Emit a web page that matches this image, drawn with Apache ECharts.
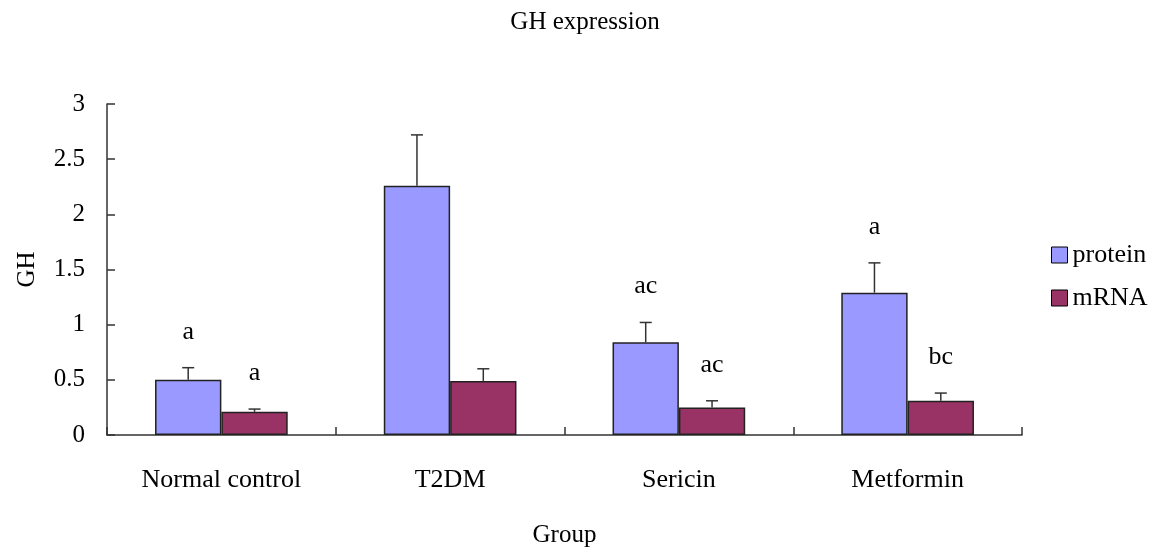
<!DOCTYPE html>
<html>
<head>
<meta charset="utf-8">
<script src="https://cdn.jsdelivr.net/npm/echarts@6/dist/echarts.min.js"></script>
<style>
  html, body { margin: 0; padding: 0; background: #fff; }
  #main { width: 1153px; height: 550px; }
</style>
</head>
<body>
<div id="main"></div>
<script>
  var groups = ['Normal control', 'T2DM', 'Sericin', 'Metformin'];
  var protein = [0.50, 2.26, 0.84, 1.29];
  var proteinSd = [0.11, 0.46, 0.18, 0.27];
  var proteinSig = ['a', '', 'ac', 'a'];
  var mrna = [0.21, 0.49, 0.25, 0.31];
  var mrnaSd = [0.025, 0.11, 0.06, 0.07];
  var mrnaSig = ['a', '', 'ac', 'bc'];

  var font = 'Liberation Serif, Times New Roman, serif';
  var gapRatio = 0.42;

  // error bar (upper only) + significance letters, drawn next to each bar
  function errorSeries(name, means, sds, sigs, side) {
    var data = means.map(function (m, i) { return [i, m, m + sds[i], sigs[i]]; });
    return {
      name: name + ' err',
      type: 'custom',
      z: 5,
      silent: true,
      data: data,
      renderItem: function (params, api) {
        var i = api.value(0);
        var band = api.size([1, 0])[0];
        var bw = band * (1 - gapRatio) / 2;
        var base = api.coord([i, api.value(1)]);
        var top = api.coord([i, api.value(2)]);
        var x = base[0] + side * bw / 2;
        var cap = 6;
        var kids = [
          { type: 'line', shape: { x1: x, y1: base[1], x2: x, y2: top[1] }, style: { stroke: '#333', lineWidth: 1.5 } },
          { type: 'line', shape: { x1: x - cap, y1: top[1], x2: x + cap, y2: top[1] }, style: { stroke: '#333', lineWidth: 1.5 } }
        ];
        var sig = data[params.dataIndex][3];
        if (sig) {
          kids.push({
            type: 'text',
            style: { text: sig, x: x, y: top[1] - 36, align: 'center', verticalAlign: 'middle',
              font: '26px ' + font, fill: '#000' }
          });
        }
        return { type: 'group', children: kids };
      }
    };
  }

  var chart = echarts.init(document.getElementById('main'));
  chart.setOption({
    backgroundColor: '#fff',
    animation: false,
    title: {
      text: 'GH expression',
      left: 580,
      textAlign: 'center',
      top: 5,
      textStyle: { fontFamily: font, fontSize: 25, fontWeight: 'normal', color: '#000' }
    },
    legend: {
      orient: 'vertical',
      left: 1046,
      top: 237,
      itemWidth: 16,
      itemHeight: 16,
      itemGap: 17,
      icon: 'rect',
      data: ['protein', 'mRNA'],
      textStyle: { fontFamily: font, fontSize: 26, color: '#000' },
      itemStyle: { borderColor: '#000', borderWidth: 1 }
    },
    grid: { left: 107, right: 131, top: 104, bottom: 115, outerBoundsMode: 'none' },
    xAxis: {
      type: 'category',
      data: groups,
      name: 'Group',
      nameLocation: 'middle',
      nameGap: 88,
      nameTextStyle: { fontFamily: font, fontSize: 25, color: '#000' },
      axisLine: { lineStyle: { color: '#333', width: 1.5 } },
      axisTick: { show: true, inside: true, length: 8, lineStyle: { color: '#333', width: 1.5 } },
      axisLabel: { fontFamily: font, fontSize: 26, color: '#000', margin: 32 }
    },
    yAxis: {
      type: 'value',
      min: 0,
      max: 3,
      interval: 0.5,
      name: 'GH',
      nameLocation: 'middle',
      nameGap: 67,
      nameTextStyle: { fontFamily: font, fontSize: 25, color: '#000' },
      splitLine: { show: false },
      axisLine: { show: true, lineStyle: { color: '#333', width: 1.5 } },
      axisTick: { show: true, inside: true, length: 8, lineStyle: { color: '#333', width: 1.5 } },
      axisLabel: { fontFamily: font, fontSize: 25, color: '#000', margin: 22 }
    },
    series: [
      {
        name: 'protein',
        type: 'bar',
        data: protein,
        barGap: '0%',
        barCategoryGap: (gapRatio * 100) + '%',
        itemStyle: { color: '#9999FF', borderColor: '#222', borderWidth: 1.5 }
      },
      {
        name: 'mRNA',
        type: 'bar',
        data: mrna,
        barGap: '0%',
        barCategoryGap: (gapRatio * 100) + '%',
        itemStyle: { color: '#993366', borderColor: '#222', borderWidth: 1.5 }
      },
      errorSeries('protein', protein, proteinSd, proteinSig, -1),
      errorSeries('mRNA', mrna, mrnaSd, mrnaSig, 1)
    ]
  });
</script>
</body>
</html>
